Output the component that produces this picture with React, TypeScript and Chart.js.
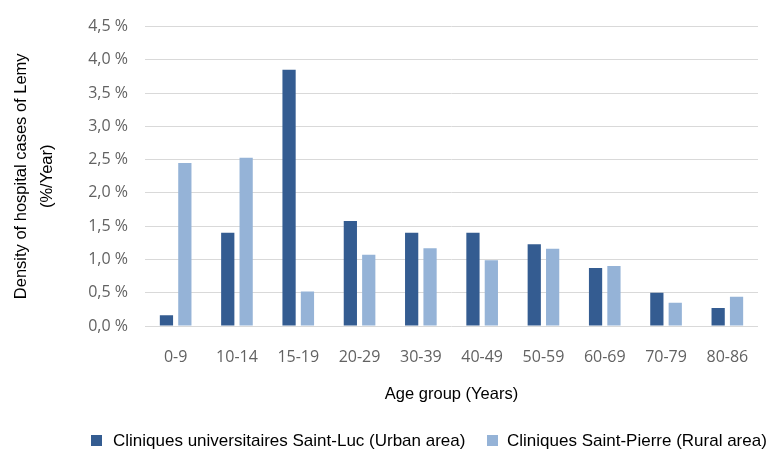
import React, { useEffect, useRef } from "react";
import { Chart, registerables } from "chart.js";

Chart.register(...registerables);

const categories = ["0-9", "10-14", "15-19", "20-29", "30-39", "40-49", "50-59", "60-69", "70-79", "80-86"];
const urbanValues = [0.16, 1.4, 3.85, 1.58, 1.4, 1.4, 1.23, 0.87, 0.5, 0.27];
const ruralValues = [2.45, 2.53, 0.52, 1.07, 1.17, 0.99, 1.16, 0.9, 0.35, 0.44];
const seriesLabels = ["Cliniques universitaires Saint-Luc (Urban area)", "Cliniques Saint-Pierre (Rural area)"];
const yAxisTitle = ["Density of hospital cases of Lemy", "(%/Year)"];
const xAxisTitle = "Age group (Years)";

const DARK = "rgb(52,92,145)";
const LIGHT = "rgb(149,179,215)";

const legendPlugin = {
  id: "customLegend",
  afterDraw(chart: any) {
    const ctx = chart.ctx;
    const y = 441;
    const items = [
      { x: 91, tx: 113 },
      { x: 487, tx: 507 },
    ];
    ctx.save();
    ctx.font = "17px 'Liberation Sans', Arial, sans-serif";
    ctx.textBaseline = "middle";
    ctx.textAlign = "left";
    chart.data.datasets.forEach((ds: any, i: number) => {
      const it = items[i];
      ctx.fillStyle = ds.backgroundColor;
      ctx.fillRect(it.x, y - 6, 11, 11);
      ctx.fillStyle = "#000";
      ctx.fillText(ds.label, it.tx, y);
    });
    ctx.restore();
  },
};

export default function App() {
  const ref = useRef<HTMLCanvasElement>(null);
  useEffect(() => {
    document.body.style.margin = "0";
    const chart = new Chart(ref.current!, {
      type: "bar",
      data: {
        labels: categories,
        datasets: [
          { label: seriesLabels[0], data: urbanValues, backgroundColor: DARK, categoryPercentage: 0.6, barPercentage: 0.72 },
          { label: seriesLabels[1], data: ruralValues, backgroundColor: LIGHT, categoryPercentage: 0.6, barPercentage: 0.72 },
        ],
      },
      options: {
        animation: false,
        responsive: false,
        maintainAspectRatio: false,
        layout: { padding: { top: 23, right: 10, bottom: 47, left: 0 } },
        plugins: { legend: { display: false }, tooltip: { enabled: false } },
        scales: {
          x: {
            grid: { display: false },
            border: { display: false },
            ticks: { color: "#626262", font: { family: "'Open Sans', sans-serif", size: 16 }, padding: 14, maxRotation: 0 },
            title: { display: true, text: xAxisTitle, color: "#000", font: { family: "'Liberation Sans', Arial, sans-serif", size: 16.5 }, padding: { top: 0, bottom: 2 } },
            afterFit: (s: any) => { s.height = 80; },
          },
          y: {
            min: 0,
            max: 4.5,
            grid: { color: "#d9d9d9", drawTicks: false, lineWidth: 1 },
            border: { display: false },
            ticks: {
              stepSize: 0.5,
              color: "#626262",
              font: { family: "'Open Sans', sans-serif", size: 16 },
              padding: 17,
              callback: (v: any) => Number(v).toFixed(1).replace(".", ",") + " %",
            },
            title: { display: true, text: yAxisTitle, color: "#000", font: { family: "'Liberation Sans', Arial, sans-serif", size: 16.5, lineHeight: 1.58 }, padding: { top: 8, bottom: 0 } },
            afterFit: (s: any) => { s.width = 145; },
          },
        },
      },
      plugins: [legendPlugin],
    });
    return () => chart.destroy();
  }, []);
  return (
    <div style={{ position: "absolute", left: 0, top: 0, width: 768, height: 453, background: "#fff" }}>
      <canvas ref={ref} width={768} height={453} />
    </div>
  );
}
